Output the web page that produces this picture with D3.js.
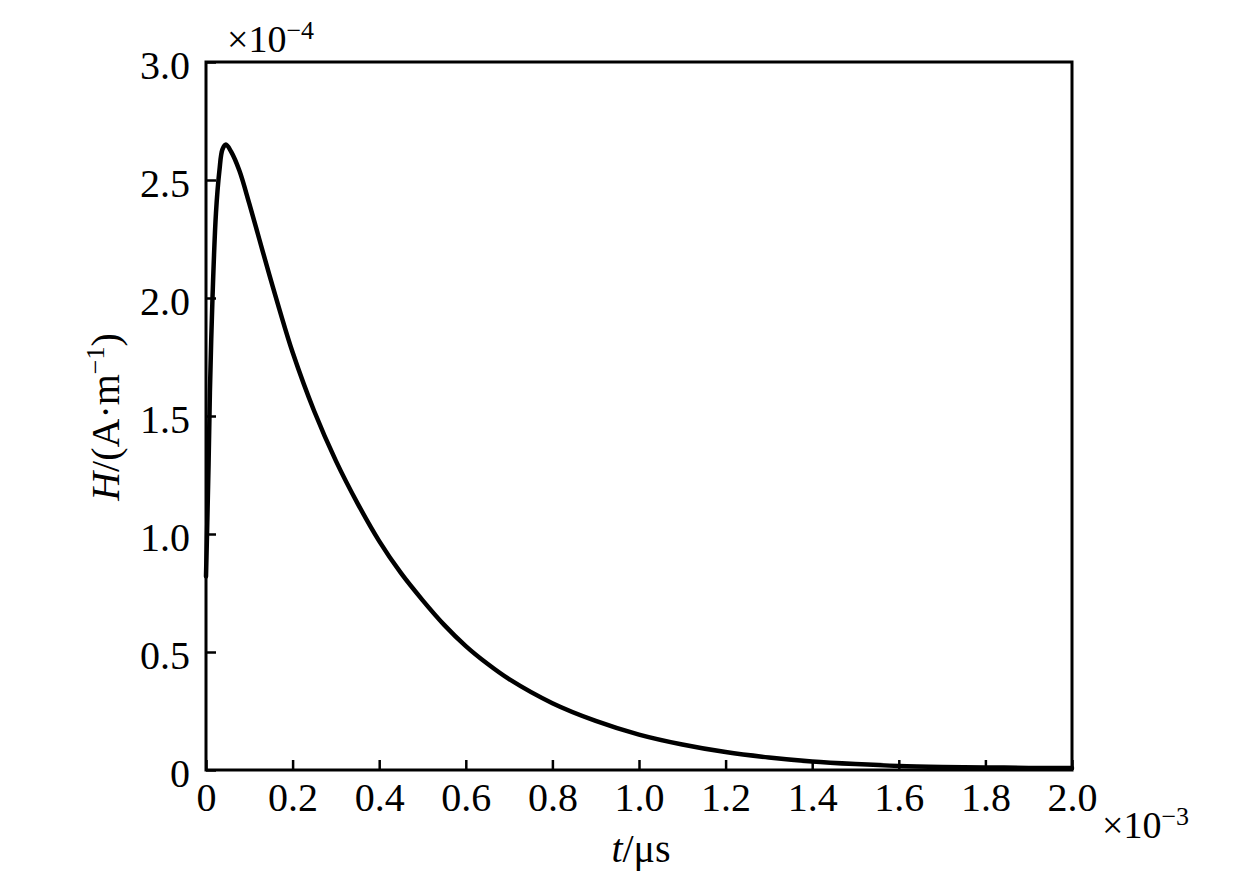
<!DOCTYPE html>
<html>
<head>
<meta charset="UTF-8" />
<title>H(t)</title>
<script src="https://cdn.jsdelivr.net/npm/d3@7"></script>
<style>
	body { margin: 0; background: #fff; }
	text { font-family: "Liberation Serif", "DejaVu Serif", serif; fill: #000; }
</style>
</head>
<body>
<svg id="vis" width="1260" height="874"></svg>
<script>
	// t en unites de 1e-3 us, H en unites de 1e-4 A/m
	const tData = [0, 0.003, 0.006, 0.009, 0.015, 0.023, 0.031, 0.038, 0.046, 0.058, 0.077, 0.10,
		0.123, 0.146, 0.169, 0.2, 0.25, 0.3, 0.35, 0.4, 0.45, 0.5, 0.55, 0.6, 0.65, 0.7, 0.8, 0.9,
		1.0, 1.1, 1.2, 1.3, 1.4, 1.5, 1.6, 1.7, 1.8, 1.9, 2.0];
	const hData = [0.82, 1.05, 1.3, 1.6, 2.0, 2.36, 2.54, 2.63, 2.65, 2.62, 2.54, 2.40,
		2.25, 2.10, 1.955, 1.77, 1.52, 1.31, 1.13, 0.97, 0.835, 0.72, 0.615, 0.525, 0.45, 0.385, 0.283, 0.208,
		0.15, 0.108, 0.076, 0.053, 0.036, 0.025, 0.017, 0.013, 0.011, 0.009, 0.008];
	const xTicks = [0, 0.2, 0.4, 0.6, 0.8, 1.0, 1.2, 1.4, 1.6, 1.8, 2.0];
	const xTickLabels = ["0", "0.2", "0.4", "0.6", "0.8", "1.0", "1.2", "1.4", "1.6", "1.8", "2.0"];
	const yTicks = [0, 0.5, 1.0, 1.5, 2.0, 2.5, 3.0];
	const yTickLabels = ["0", "0.5", "1.0", "1.5", "2.0", "2.5", "3.0"];

	const mLeft = 206, mRight = 1072, mTop = 62, mBottom = 770;

	let svg = d3.select("#vis");

	// echelles
	let x = d3.scaleLinear().domain([0, 2]).range([mLeft, mRight]);
	let y = d3.scaleLinear().domain([0, 3]).range([mBottom, mTop]);

	// axe X (ticks vers l'interieur)
	let xAxis = d3.axisBottom(x)
		.tickValues(xTicks)
		.tickFormat((d, i) => xTickLabels[i])
		.tickSizeInner(-10)
		.tickSizeOuter(0)
		.tickPadding(13);
	let gx = svg.append("g").attr("transform", "translate(0," + mBottom + ")").call(xAxis);
	gx.select(".domain").remove();
	gx.selectAll(".tick line").attr("stroke", "#000").attr("stroke-width", 2.5);
	gx.selectAll(".tick text").attr("font-size", 40).attr("dy", "0.71em")
		.style("font-family", "'Liberation Serif', serif");

	// axe Y
	let yAxis = d3.axisLeft(y)
		.tickValues(yTicks)
		.tickFormat((d, i) => yTickLabels[i])
		.tickSizeInner(-10)
		.tickSizeOuter(0)
		.tickPadding(16);
	let gy = svg.append("g").attr("transform", "translate(" + mLeft + ",0)").call(yAxis);
	gy.select(".domain").remove();
	gy.selectAll(".tick line").attr("stroke", "#000").attr("stroke-width", 2.5);
	gy.selectAll(".tick text").attr("font-size", 40).attr("dy", "0.4em")
		.style("font-family", "'Liberation Serif', serif");

	// cadre
	svg.append("rect")
		.attr("x", mLeft).attr("y", mTop)
		.attr("width", mRight - mLeft).attr("height", mBottom - mTop)
		.attr("fill", "none").attr("stroke", "#000").attr("stroke-width", 3);

	// courbe
	let pts = tData.map((t, i) => [t, hData[i]]);
	let line = d3.line()
		.x(d => x(d[0]))
		.y(d => y(d[1]))
		.curve(d3.curveCatmullRom.alpha(0.5));
	svg.append("path")
		.attr("d", line(pts))
		.attr("fill", "none")
		.attr("stroke", "#000")
		.attr("stroke-width", 4.5)
		.attr("stroke-linejoin", "round")
		.attr("stroke-linecap", "round");

	// multiplicateurs
	let m1 = svg.append("text").attr("x", 227).attr("y", 52).attr("font-size", 38);
	m1.append("tspan").text("\u00d710");
	m1.append("tspan").attr("font-size", 26).attr("dy", -13).text("\u22124");

	let m2 = svg.append("text").attr("x", 1102).attr("y", 838).attr("font-size", 38);
	m2.append("tspan").text("\u00d710");
	m2.append("tspan").attr("font-size", 26).attr("dy", -13).text("\u22123");

	// titres des axes
	let xt = svg.append("text").attr("x", 641).attr("y", 862)
		.attr("text-anchor", "middle").attr("font-size", 40);
	xt.append("tspan").attr("font-style", "italic").text("t");
	xt.append("tspan").text("/\u03bcs");

	let yt = svg.append("text")
		.attr("transform", "translate(119,417) rotate(-90)")
		.attr("text-anchor", "middle").attr("font-size", 40);
	yt.append("tspan").attr("font-style", "italic").text("H");
	yt.append("tspan").text("/(A\u00b7m");
	yt.append("tspan").attr("font-size", 26).attr("dy", -15).text("\u22121");
	yt.append("tspan").attr("dy", 15).text(")");
</script>
</body>
</html>
